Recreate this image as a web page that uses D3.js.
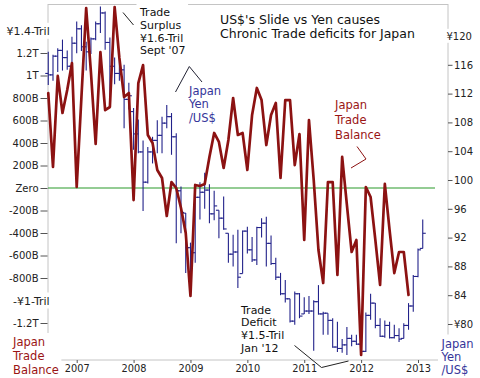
<!DOCTYPE html>
<html>
<head>
<meta charset="utf-8">
<script src="https://cdn.jsdelivr.net/npm/d3@7"></script>
<style>
body{margin:0;background:#fff}
svg{display:block}
text{font-family:"DejaVu Sans",Verdana,sans-serif}
</style>
</head>
<body>
<svg id="chart" width="480" height="378"></svg>
<script>
// Data (months counted from Jan 2007, first value = Jul 2006)

var firstMonth = -6;

// Japan trade balance, billions of yen, Jul 2006 .. Nov 2012
var tradeBal = [844, 187, 996, 667, 871, 1111,
	9, 809, 1600, 1031, 391, 1209, 693, 720, 1609, 1156, 809, 844,
	-107, 933, 1093, 471, 400, 160, 89, -249, 53, 0, -178, -400,
	-960, 27, 18, 36, 276, 489, 409, 178, 427, 800, 471, 489,
	160, 649, 889, 782, 382, 649, 756, 89, 782, 782, 204, 480,
	-462, 604, 71, -551, -844, 53, 53, -773, 276, -151, -569, -462,
	-1484, 9, -80, -462, -862, 36, -373, -756, -569, -569, -951];

// Yen per US$ monthly bars, Jul 2006 .. Feb 2013
var yenHigh = [117.8, 117.4, 118.3, 119.5, 118.0, 119.9,
	122.0, 121.5, 119.2, 119.8, 122.0, 124.1, 123.4, 119.8, 117.0, 117.8, 116.0, 113.5,
	110.0, 108.4, 105.5, 104.6, 106.0, 108.3, 108.8, 110.4, 109.3, 106.5, 99.1, 95.4,
	91.3, 97.7, 99.7, 101.0, 99.4, 98.5, 95.8, 97.7, 92.6, 92.4, 93.1, 93.0,
	93.5, 92.1, 93.5, 94.7, 94.9, 92.3, 89.2, 87.1, 86.1, 83.5, 84.5, 84.3,
	83.7, 83.9, 83.3, 85.4, 81.7, 81.5, 80.8, 80.3, 77.9, 79.6, 78.5, 78.5,
	78.3, 81.6, 84.2, 82.9, 80.8, 80.5, 80.3, 79.9, 79.4, 80.1, 82.9, 86.8,
	90.5, 94.5];
var yenLow = [113.2, 113.8, 115.0, 115.2, 115.3, 115.0,
	117.6, 117.9, 115.2, 117.5, 119.4, 120.4, 118.1, 111.6, 113.3, 113.8, 107.2, 109.8,
	104.2, 103.7, 95.7, 99.5, 102.3, 103.7, 103.7, 107.2, 103.5, 91.2, 92.6, 87.1,
	87.1, 88.5, 94.5, 96.0, 94.0, 94.4, 91.9, 93.1, 88.5, 88.0, 85.0, 87.0,
	89.8, 88.6, 88.2, 92.0, 88.0, 88.2, 86.1, 84.0, 83.0, 80.2, 79.9, 80.8,
	81.4, 81.4, 76.3, 81.3, 78.5, 78.5, 76.7, 76.1, 76.0, 75.7, 76.9, 77.1,
	76.1, 76.1, 80.6, 79.4, 78.2, 78.1, 78.0, 78.0, 77.5, 78.0, 79.2, 81.7,
	86.5, 90.5];
var yenOpen = [114.8, 114.6, 117.2, 118.0, 117.0, 115.8,
	119.0, 121.0, 118.5, 117.8, 119.6, 121.7, 123.2, 119.1, 115.8, 114.8, 115.3, 111.2,
	109.5, 106.4, 103.9, 99.7, 103.9, 105.5, 106.2, 107.9, 108.8, 106.0, 98.5, 95.4,
	90.6, 89.9, 97.6, 98.3, 98.6, 95.3, 95.8, 94.7, 92.6, 89.7, 90.0, 87.0,
	92.9, 90.3, 88.9, 93.4, 94.0, 91.2, 88.4, 86.5, 84.2, 83.5, 80.4, 84.2,
	81.4, 81.8, 81.8, 83.1, 81.4, 81.5, 80.5, 76.8, 76.6, 77.1, 78.0, 77.6,
	77.2, 76.2, 81.2, 82.9, 79.8, 78.3, 79.8, 78.1, 78.4, 78.0, 79.8, 82.5,
	86.6, 90.5];
var yenClose = [114.6, 117.2, 118.0, 117.0, 115.8, 119.0,
	121.0, 118.5, 117.8, 119.6, 121.7, 123.2, 119.1, 115.8, 114.8, 115.3, 111.2, 111.7,
	106.4, 103.9, 99.7, 103.9, 105.5, 106.2, 107.9, 108.8, 106.0, 98.5, 95.5, 90.6,
	89.9, 97.6, 98.3, 98.6, 95.3, 96.4, 94.7, 93.2, 89.7, 90.0, 86.5, 92.9,
	90.3, 88.9, 93.4, 94.0, 91.2, 88.4, 86.5, 84.2, 83.5, 80.4, 84.2, 81.1,
	81.8, 81.8, 83.1, 81.4, 81.5, 80.5, 76.8, 76.6, 77.1, 78.0, 77.6, 77.2,
	76.2, 81.2, 82.9, 79.8, 78.3, 79.8, 78.1, 78.4, 77.9, 79.8, 82.5, 86.6,
	90.3, 92.6];

var years = ["2007", "2008", "2009", "2010", "2011", "2012", "2013"];

var balTicks = [1200, 1000, 800, 600, 400, 200, 0, -200, -400, -600, -800, -1200];
var balTickLabels = ["1.2T", "1T", "800B", "600B", "400B", "200B", "Zero",
	"-200B", "-400B", "-600B", "-800B", "-1.2T"];

var yenTicks = [116, 112, 108, 104, 100, 96, 92, 88, 84, 80];
var yenTickLabels = ["116", "112", "108", "104", "100", "96", "92", "88", "84", "¥80"];

// Scales

var x = d3.scaleLinear().domain([0, 72]).range([76.7, 418]);
var yL = d3.scaleLinear().domain([-1200, 1400]).range([323, 30.5]);
var yR = d3.scaleLinear().domain([80, 120]).range([324, 36]);

var svg = d3.select("#chart");
var frameCol = "#c4c4c4",
	redCol = "#8c1212",
	blueCol = "#22228a",
	redText = "#9a1414",
	blueText = "#35359a";

// frame
var frame = svg.append("g");
frame.append("line").attr("x1", 48).attr("x2", 448).attr("y1", 4.5).attr("y2", 4.5);
frame.append("line").attr("x1", 48).attr("x2", 48).attr("y1", 4).attr("y2", 360);
frame.append("line").attr("x1", 448).attr("x2", 448).attr("y1", 4).attr("y2", 360);
frame.append("line").attr("x1", 48).attr("x2", 448).attr("y1", 360).attr("y2", 360);
frame.selectAll("line").style("stroke", frameCol).style("stroke-width", 1);

var bgLayer = svg.append("g");
var dataLayer = svg.append("g");
var textLayer = svg.append("g");

// axes

var axL = textLayer.append("g").attr("transform", "translate(47.5,0)")
	.call(d3.axisLeft(yL).tickValues(balTicks).tickSize(7).tickPadding(2)
		.tickFormat(function(d, i){ return balTickLabels[i]; }));

var axR = textLayer.append("g").attr("transform", "translate(448,0)")
	.call(d3.axisRight(yR).tickValues(yenTicks).tickSize(4.5).tickPadding(1.5)
		.tickFormat(function(d, i){ return yenTickLabels[i]; }));

var axB = textLayer.append("g").attr("transform", "translate(0,360)")
	.call(d3.axisBottom(x).tickValues(d3.range(0, 73, 12)).tickSize(3).tickPadding(2)
		.tickFormat(function(d, i){ return years[i]; }));

[axL, axR, axB].forEach(function(a){
	a.select(".domain").remove();
	a.selectAll("line").style("stroke", "#555").style("stroke-width", 1);
	a.selectAll("text").style("font-family", "DejaVu Sans").style("font-size", "10px").style("fill", "#222");
});
axB.selectAll("text").style("font-size", "9.8px");

// labels that sit over the frame, with a white box behind them

function addLabel(lines, x0, y0, dy, color, size, anchor, boxed){
	var g = textLayer.append("g");
	lines.forEach(function(t, i){
		g.append("text").attr("x", x0).attr("y", y0 + i*dy).text(t)
			.style("font-size", size + "px").style("fill", color)
			.attr("text-anchor", anchor || "start");
	});
	if (boxed) {
		var b = g.node().getBBox();
		bgLayer.append("rect").attr("x", b.x - 2.5).attr("y", b.y - 2).attr("width", b.width + 5).attr("height", b.height + 3)
			.style("fill", "white");
	}
	return g;
}

addLabel(["¥1.4-Tril"], 6.5, 34.8, 0, "#222", 11, "start", true);
addLabel(["-¥1-Tril"], 13, 304.5, 0, "#222", 11, "start", true);
addLabel(["¥120"], 446.5, 39.8, 0, "#222", 10, "start", true);

addLabel(["Trade", "Surplus", "¥1.6-Tril", "Sept '07"], 140, 16, 12.8, "#111", 11, "start", true);
addLabel(["US$'s Slide vs Yen causes", "Chronic Trade deficits for Japan"], 220, 23.5, 14, "#111", 12.5, "start", false);
addLabel(["Japan", "Yen", "/US$"], 189, 95, 13.3, blueText, 11.5, "start", false);
addLabel(["Japan", "Trade", "Balance"], 335, 108.5, 15, redText, 11.5, "start", false);
addLabel(["Trade", "Deficit", "¥1.5-Tril", "Jan '12"], 241, 313.5, 12.8, "#111", 11, "start", false);
addLabel(["Japan", "Trade", "Balance"], 13, 346, 14, redText, 11.5, "start", true);
addLabel(["Japan", "Yen", "/US$"], 441.5, 347.5, 13, blueText, 11.5, "start", true);

// leader lines
var lead = textLayer.append("g").style("fill", "none").style("stroke-width", 1);
lead.append("polyline").attr("points", "123,12.5 133.5,25").style("stroke", "#222");
lead.append("polyline").attr("points", "175.5,92 189.3,66.5 202,82").style("stroke", "#223");
lead.append("polyline").attr("points", "357,146.5 366,159 351,168").style("stroke", redCol);
lead.append("polyline").attr("points", "294.5,345.5 321.5,367.5 348.5,361").style("stroke", "#222");

// zero line
dataLayer.append("line").attr("x1", 48).attr("x2", 435).attr("y1", yL(0)).attr("y2", yL(0))
	.style("stroke", "#2a9a2a").style("stroke-width", 1.2);

// yen bars
var bars = dataLayer.selectAll(".bar").data(yenHigh).enter().append("g").attr("class", "bar")
	.attr("transform", function(d, i){ return "translate(" + x(firstMonth + i) + ",0)"; })
	.style("stroke", blueCol).style("stroke-width", 1.1);

bars.append("line").attr("x1", 0).attr("x2", 0)
	.attr("y1", function(d, i){ return yR(yenHigh[i]); })
	.attr("y2", function(d, i){ return yR(yenLow[i]); });
bars.append("line").attr("x1", -3).attr("x2", 0)
	.attr("y1", function(d, i){ return yR(yenOpen[i]); })
	.attr("y2", function(d, i){ return yR(yenOpen[i]); });
bars.append("line").attr("x1", 0).attr("x2", 3)
	.attr("y1", function(d, i){ return yR(yenClose[i]); })
	.attr("y2", function(d, i){ return yR(yenClose[i]); });

// trade balance line
var balLine = d3.line()
	.x(function(d, i){ return x(firstMonth + i); })
	.y(function(d){ return yL(d); });

dataLayer.append("path").datum(tradeBal).attr("d", balLine)
	.style("fill", "none").style("stroke", redCol).style("stroke-width", 2.7)
	.style("stroke-linejoin", "round").style("stroke-linecap", "round");
</script>
</body>
</html>
